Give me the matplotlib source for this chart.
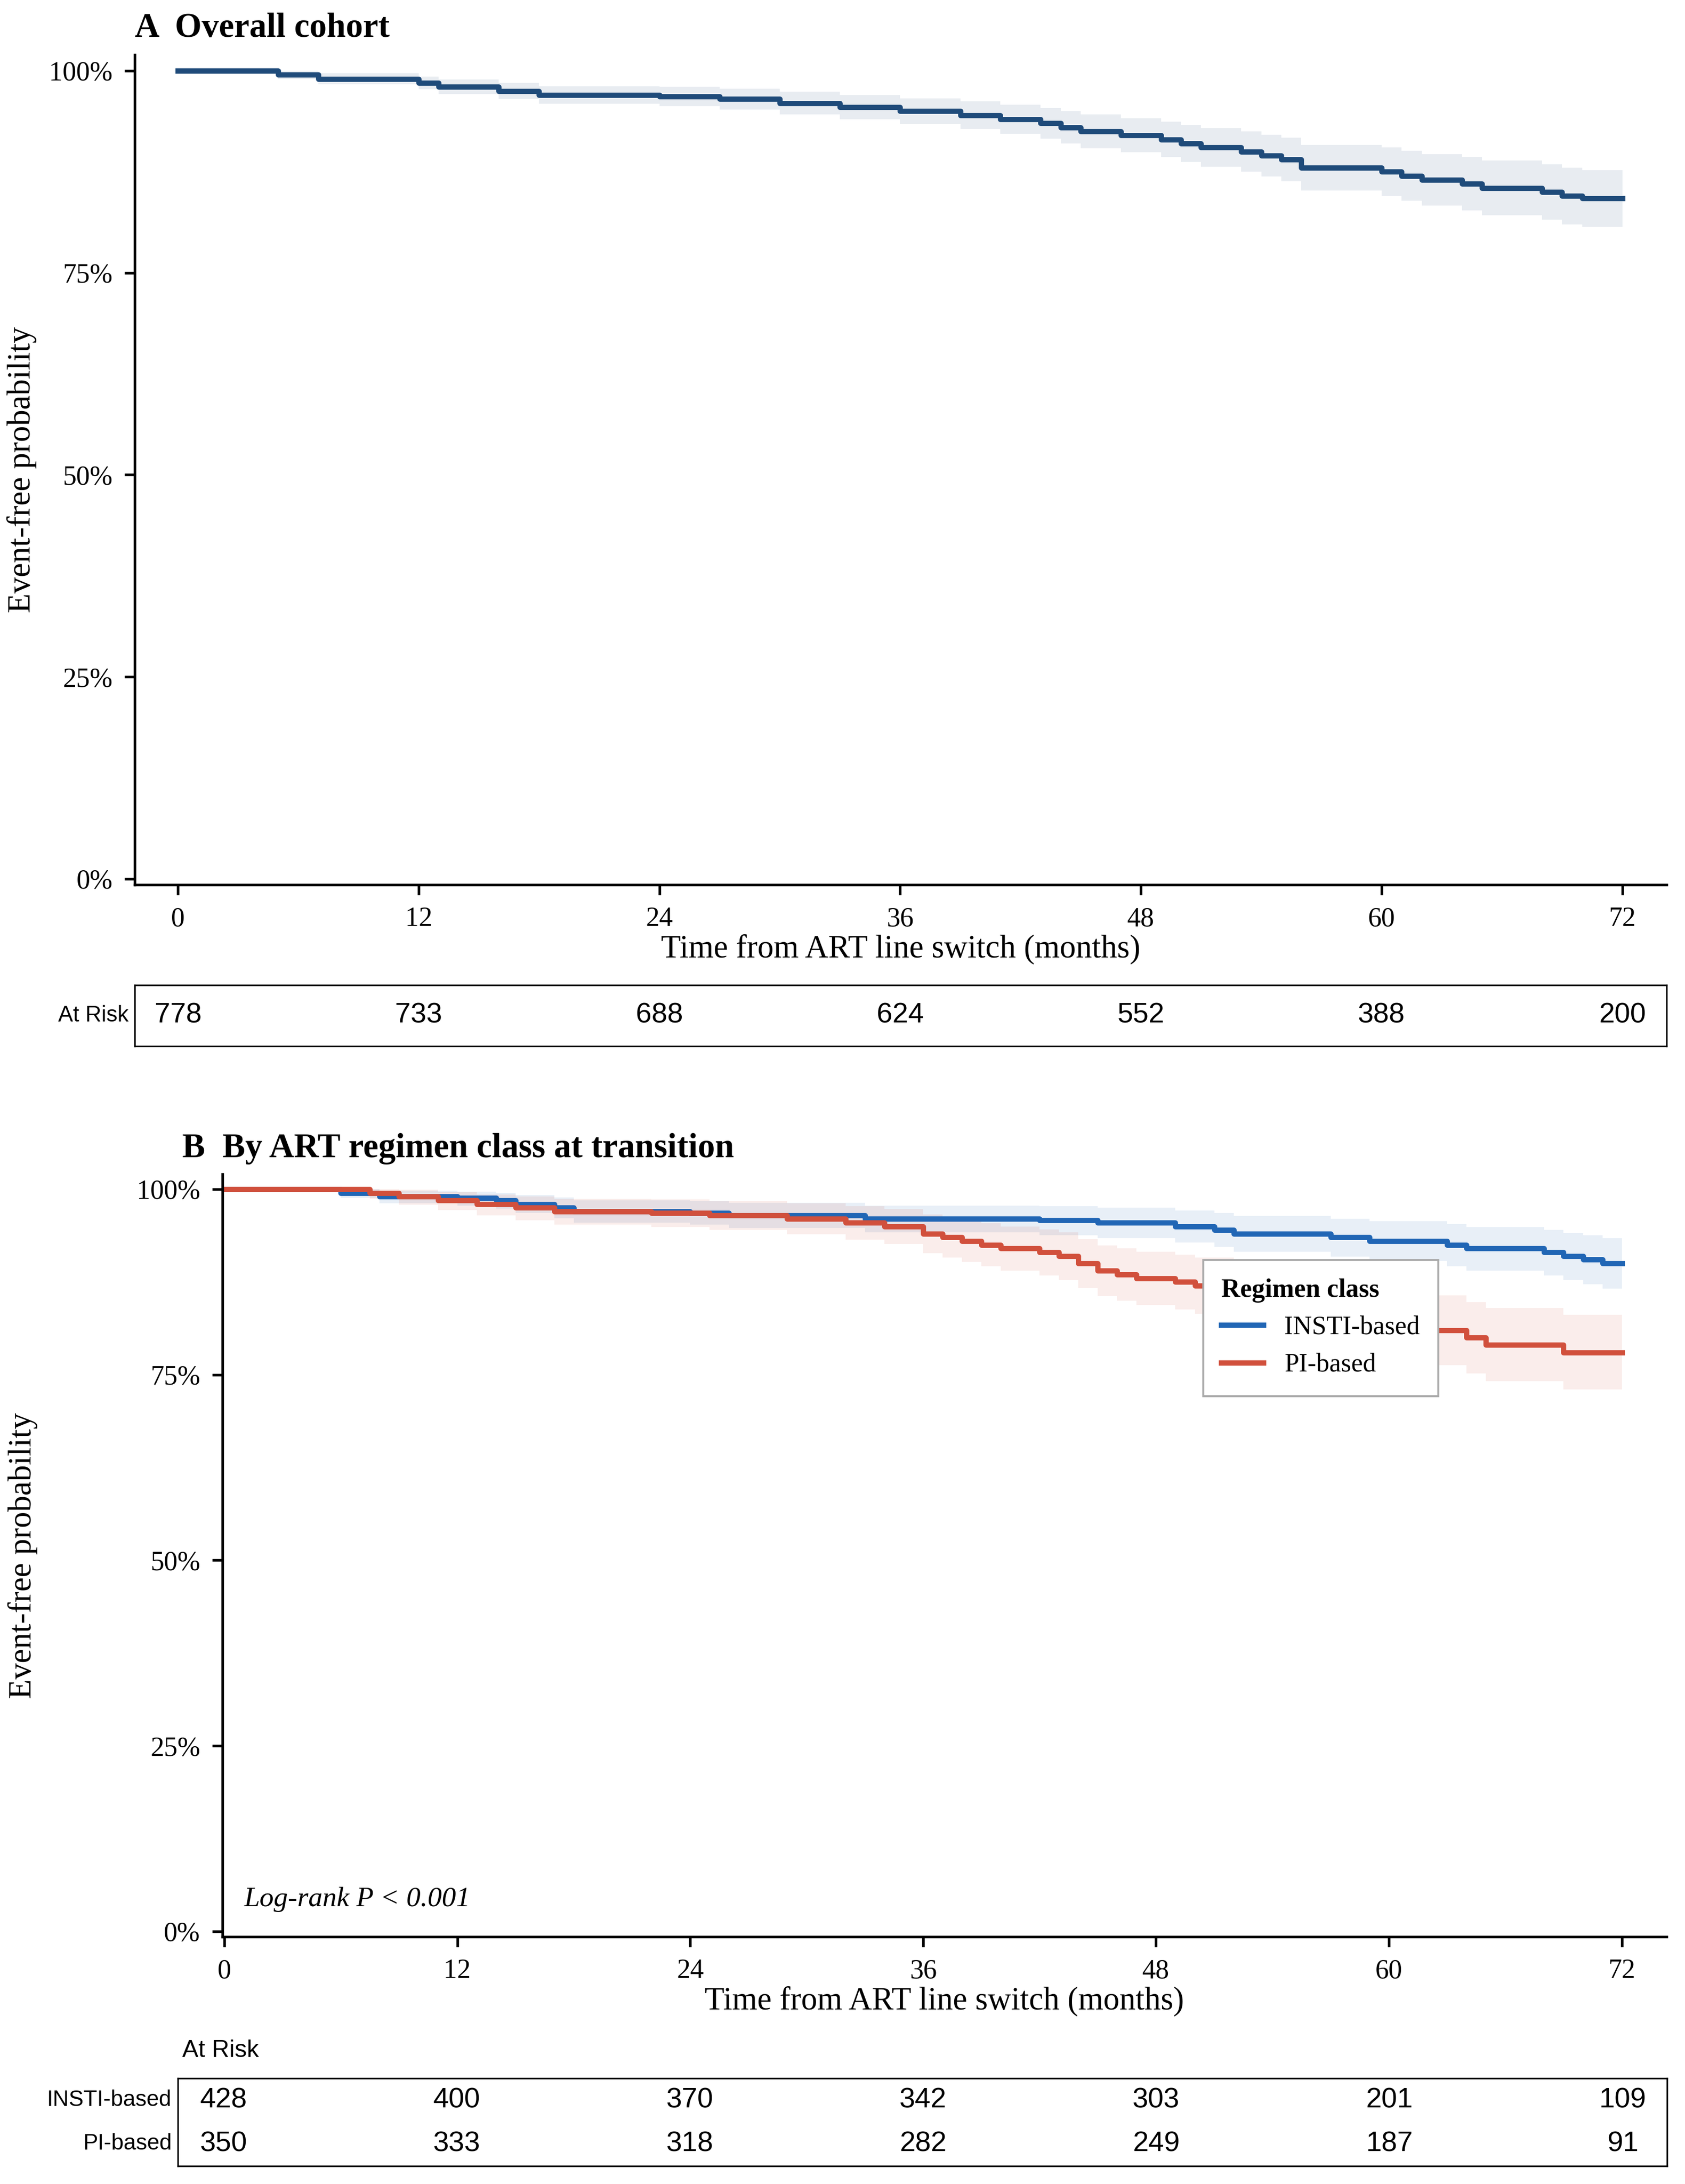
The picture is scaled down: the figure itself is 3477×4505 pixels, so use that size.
import numpy as np
import matplotlib.pyplot as plt
from matplotlib.ticker import FuncFormatter

plt.rcParams['font.family'] = ['Liberation Serif', 'DejaVu Serif']

# ---- data ----
months_ticks = [0, 12, 24, 36, 48, 60, 72]

all_t = [0, 4, 5, 7, 12, 13, 16, 18, 24, 27, 30, 33, 36, 39, 41, 43, 44, 45, 47,
         49, 50, 51, 53, 54, 55, 56, 60, 61, 62, 64, 65, 68, 69, 70, 72]
all_s = [100, 100, 99.5, 99, 98.5, 98, 97.5, 97, 96.8, 96.5, 96, 95.5, 95, 94.5, 94,
         93.5, 93, 92.5, 92, 91.5, 91, 90.5, 90, 89.5, 89, 88, 87.5, 87, 86.5, 86,
         85.5, 85, 84.5, 84.2, 84.2]
all_lo = [100, 100, 99.0, 98.3, 97.7, 97.1, 96.5, 95.9, 95.6, 95.2, 94.6, 94.0, 93.4,
          92.8, 92.2, 91.6, 91.0, 90.4, 89.9, 89.3, 88.7, 88.1, 87.5, 86.9, 86.3, 85.2,
          84.5, 83.9, 83.3, 82.7, 82.1, 81.6, 81.0, 80.7, 80.7]
all_hi = [100, 100, 100, 99.7, 99.3, 98.9, 98.5, 98.1, 98.0, 97.8, 97.4, 97.0, 96.6,
          96.2, 95.8, 95.4, 95.0, 94.6, 94.1, 93.7, 93.3, 92.9, 92.5, 92.1, 91.7, 90.8,
          90.5, 90.1, 89.7, 89.3, 88.9, 88.4, 88.0, 87.7, 87.7]
at_risk_all = [778, 733, 688, 624, 552, 388, 200]

insti_t = [0, 5, 6, 8, 12, 14, 15, 17, 18, 24, 26, 33, 42, 45, 49, 51, 52, 57, 59,
           63, 64, 68, 69, 70, 71, 72]
insti_s = [100, 100, 99.5, 99, 98.8, 98.5, 98, 97.5, 97, 96.8, 96.5, 96, 95.8, 95.5,
           95, 94.5, 94, 93.5, 93, 92.5, 92, 91.5, 91, 90.5, 90, 90]
insti_lo = [100, 100, 98.8, 98.1, 97.8, 97.4, 96.8, 96.1, 95.5, 95.2, 94.8, 94.2, 93.8,
            93.4, 92.8, 92.2, 91.6, 90.9, 90.3, 89.6, 89.0, 88.4, 87.8, 87.2, 86.6, 86.6]
insti_hi = [100, 100, 100, 99.8, 99.7, 99.5, 99.2, 98.9, 98.5, 98.4, 98.2, 97.8, 97.7,
            97.5, 97.1, 96.8, 96.4, 96.0, 95.7, 95.3, 94.9, 94.5, 94.1, 93.8, 93.4, 93.4]

pi_t = [0, 7, 7.5, 9, 11, 13, 15, 17, 22, 25, 29, 32, 34, 36, 37, 38, 39, 40, 42, 43,
        44, 45, 46, 47, 49, 50, 52, 54, 56, 58, 60, 62, 64, 65, 69, 72]
pi_s = [100, 100, 99.5, 99, 98.5, 98, 97.5, 97, 96.8, 96.5, 96, 95.5, 95, 94, 93.5, 93,
        92.5, 92, 91.5, 91, 90, 89, 88.5, 88, 87.5, 87, 86.5, 85, 83, 82, 81.5, 81, 80,
        79, 78, 78]
pi_lo = [100, 100, 98.7, 97.9, 97.2, 96.5, 95.8, 95.2, 94.9, 94.5, 93.9, 93.2, 92.6,
         91.4, 90.8, 90.2, 89.6, 89.0, 88.4, 87.8, 86.7, 85.6, 85.0, 84.4, 83.8, 83.2,
         82.6, 80.9, 78.7, 77.5, 76.9, 76.3, 75.2, 74.1, 73.0, 73.0]
pi_hi = [100, 100, 100, 99.9, 99.6, 99.3, 99.0, 98.7, 98.6, 98.4, 98.1, 97.7, 97.3,
         96.6, 96.2, 95.8, 95.4, 95.0, 94.6, 94.2, 93.3, 92.4, 92.0, 91.6, 91.2, 90.8,
         90.4, 89.1, 87.3, 86.5, 86.1, 85.7, 84.8, 84.0, 83.1, 83.1]
at_risk_insti = [428, 400, 370, 342, 303, 201, 109]
at_risk_pi = [350, 333, 318, 282, 249, 187, 91]

c_all = '#1f4b7a'
c_insti = '#2166b5'
c_pi = '#d1503c'

fig = plt.figure(figsize=(3477 / 300, 4505 / 300), dpi=300)
pct = FuncFormatter(lambda v, p: '%d%%' % round(v * 100))


def km_axes(ax, xlim, ylab_x):
    ax.set_xlim(*xlim)
    ax.set_ylim(-0.007, 1.02)
    ax.set_xticks(months_ticks)
    ax.set_yticks([0, 0.25, 0.5, 0.75, 1.0])
    ax.yaxis.set_major_formatter(pct)
    for s in ['top', 'right']:
        ax.spines[s].set_visible(False)
    ax.spines['left'].set_linewidth(1.3)
    ax.spines['bottom'].set_linewidth(1.3)
    ax.tick_params(labelsize=13.5, width=1.3, length=5, pad=6)
    ax.set_xlabel('Time from ART line switch (months)', fontsize=16, labelpad=1)
    ax.set_ylabel('Event-free probability', fontsize=16)
    ax.yaxis.set_label_coords(ylab_x, 0.5)


def curve(ax, t, s, lo, hi, color, label=None):
    t = np.array(t)
    ax.fill_between(t, np.array(lo) / 100, np.array(hi) / 100, step='post',
                    color=color, alpha=0.1, lw=0)
    ax.step(t, np.array(s) / 100, where='post', color=color, lw=2.6, label=label)


def risk_table(rect, xlim, rows):
    tb = fig.add_axes(rect)
    tb.set_xlim(*xlim)
    tb.set_ylim(0, len(rows))
    tb.set_xticks([])
    tb.set_yticks([])
    for i, (name, vals) in enumerate(rows):
        y = len(rows) - i - 0.5
        for m, v in zip(months_ticks, vals):
            tb.text(m, y, str(v), ha='center', va='center', fontsize=14,
                    family='Liberation Sans')
        tb.text(-0.004, y, name, transform=tb.get_yaxis_transform(), ha='right',
                va='center', fontsize=11, family='Liberation Sans')
    return tb


# ---- panel A ----
axA = fig.add_axes([0.080, 0.595, 0.909, 0.38])
curve(axA, all_t, all_s, all_lo, all_hi, c_all)
km_axes(axA, (-2.15, 74.2), -0.064)
fig.text(0.080, 0.987, 'A  Overall cohort', fontsize=17, weight='bold', va='center')
risk_table([0.080, 0.521, 0.909, 0.028], (-2.15, 74.2), [('At Risk', at_risk_all)])

# ---- panel B ----
axB = fig.add_axes([0.132, 0.1133, 0.857, 0.349])
curve(axB, insti_t, insti_s, insti_lo, insti_hi, c_insti, 'INSTI-based')
curve(axB, pi_t, pi_s, pi_lo, pi_hi, c_pi, 'PI-based')
km_axes(axB, (-0.1, 74.3), -0.128)
axB.text(0.015, 0.04, 'Log-rank P < 0.001', transform=axB.transAxes, fontsize=14,
         style='italic')
leg = axB.legend(title='Regimen class', loc='upper left', bbox_to_anchor=(0.67, 0.905),
                 fontsize=13, title_fontproperties={'weight': 'bold', 'size': 13},
                 fancybox=False, edgecolor='#aaaaaa', framealpha=1, handlelength=1.6,
                 borderpad=0.7, labelspacing=0.5)
leg._legend_box.align = 'left'
fig.text(0.108, 0.061, 'At Risk', fontsize=12, family='Liberation Sans', va='center')
risk_table([0.1055, 0.0083, 0.884, 0.0401], (-2.36, 74.3),
           [('INSTI-based', at_risk_insti), ('PI-based', at_risk_pi)])
fig.text(0.108, 0.474, 'B  By ART regimen class at transition', fontsize=17,
         weight='bold', va='center')

fig.savefig('out.png', dpi=300)
